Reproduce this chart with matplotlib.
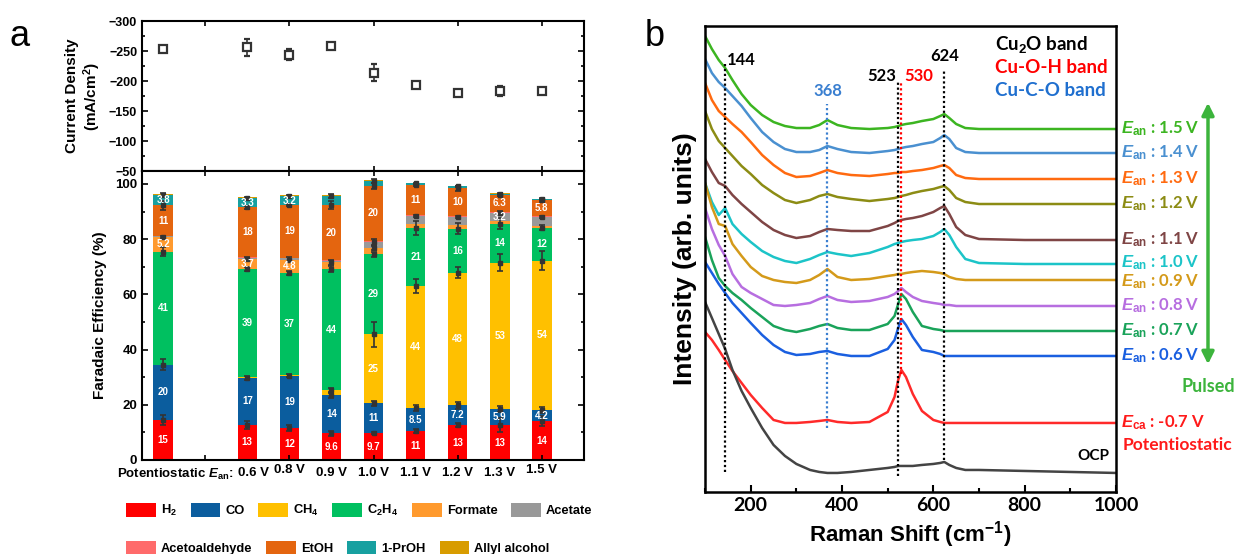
import matplotlib
matplotlib.use("Agg")
from matplotlib import pyplot as plt
from matplotlib.patches import Patch, FancyArrowPatch
from matplotlib.ticker import MultipleLocator, FixedLocator, NullFormatter

plt.rcParams['font.family'] = ['Liberation Sans', 'DejaVu Sans']
plt.rcParams['font.weight'] = 'bold'
plt.rcParams['axes.labelweight'] = 'bold'
plt.rcParams['mathtext.fontset'] = 'custom'
plt.rcParams['mathtext.rm'] = 'Liberation Sans:bold'
plt.rcParams['mathtext.it'] = 'Liberation Sans:italic:bold'
plt.rcParams['mathtext.bf'] = 'Liberation Sans:bold'

# %% data, panel a
conditions = ['0.6 V', '0.8 V', '0.9 V', '1.0 V', '1.1 V', '1.2 V', '1.3 V', '1.5 V']
positions = [0, 2, 3, 4, 5, 6, 7, 8, 9]

current = [-253, -256, -244, -259, -214, -194, -180, -184, -183]
current_err = [5, 14, 9, 4, 14, 5, 4, 8, 5]

products = ['H$_2$', 'CO', 'CH$_4$', 'C$_2$H$_4$', 'Formate', 'Acetate',
            'Acetoaldehyde', 'EtOH', '1-PrOH', 'Allyl alcohol']
colors = ['#ff0000', '#0b5d9e', '#ffc000', '#00c060', '#ff9a2e', '#999999',
          '#ff6b6b', '#e4650f', '#17a0a0', '#d89c00']

fe_h2 = [14.5, 12.7, 11.6, 9.6, 9.7, 10.4, 12.6, 12.6, 14.0]
fe_co = [20, 17, 19, 14, 10.8, 8.5, 7.2, 5.9, 4.2]
fe_ch4 = [0, 0.4, 0.2, 1.6, 25, 44, 48, 53, 54]
fe_c2h4 = [41, 39, 37, 44, 29, 21, 16, 14, 12]
fe_formate = [5.2, 3.7, 4.8, 2.4, 2.2, 1.6, 1.3, 0.9, 0.7]
fe_acetate = [0.3, 0.5, 0.5, 0.6, 2.2, 2.8, 3.0, 3.2, 3.2]
fe_acetald = [0.2, 0.2, 0.2, 0.2, 0.4, 0.3, 0.3, 0.2, 0.2]
fe_etoh = [11, 18, 19, 20, 20, 11, 10, 6.3, 5.8]
fe_proh = [3.8, 3.3, 3.2, 3.2, 1.8, 0.6, 0.7, 0.4, 0.4]
fe_allyl = [0.4, 0.3, 0.4, 0.3, 0.5, 0.3, 0.3, 0.2, 0.2]

err_h2 = [1.7, 1.5, 1.0, 0.8, 0.3, 0.8, 0.8, 2.5, 1.8]
err_co = [2.0, 0.8, 0.5, 1.0, 1.0, 1.0, 1.2, 1.2, 1.0]
err_ch4 = [0, 0, 0, 1.0, 4.5, 2.5, 2.0, 3.0, 3.5]
err_c2h4 = [1.5, 0.8, 0.8, 1.2, 1.0, 2.5, 2.0, 2.0, 0.8]
err_formate = [0.3, 0.8, 0.8, 1.0, 0.8, 0, 0, 0, 0]
err_acetate = [0, 0, 0, 0, 1.0, 0.4, 0.3, 0.5, 0.3]
err_acetald = [0, 0, 0, 0, 0, 0, 0, 0, 0]
err_etoh = [1.6, 0.6, 0.4, 1.5, 1.0, 0.5, 0.8, 0.3, 0.5]
err_proh = [0.6, 0.6, 0.6, 0.6, 0.6, 0.3, 0.3, 0.3, 0.3]
err_allyl = [0, 0, 0, 0, 0, 0, 0, 0, 0]

lab_h2 = ['15', '13', '12', '9.6', '9.7', '11', '13', '13', '14']
lab_co = ['20', '17', '19', '14', '11', '8.5', '7.2', '5.9', '4.2']
lab_ch4 = ['', '', '', '', '25', '44', '48', '53', '54']
lab_c2h4 = ['41', '39', '37', '44', '29', '21', '16', '14', '12']
lab_formate = ['5.2', '3.7', '4.8', '', '', '', '', '', '']
lab_acetate = ['', '', '', '', '', '', '', '3.2', '']
lab_etoh = ['11', '18', '19', '20', '20', '11', '10', '6.3', '5.8']
lab_proh = ['3.8', '3.3', '3.2', '', '', '', '', '', '']
empty = [''] * 9

# %% data, panel b
raman_x = [100, 115, 130, 144, 160, 180, 200, 225, 250, 275, 300, 330, 350, 368,
           390, 420, 460, 500, 515, 523, 530, 540, 555, 575, 600, 615, 624, 635,
           650, 670, 700, 800, 1000]
spec_15 = [456, 443, 432, 424, 412, 398, 387, 377, 370, 366, 364, 364, 367, 372,
           367, 364, 363, 364, 365, 366, 367, 368, 369, 371, 373, 376, 378, 374,
           368, 364, 363, 363, 363]
spec_14 = [433, 419, 410, 404, 396, 386, 374, 360, 350, 343, 340, 340, 342, 346,
           343, 340, 339, 341, 342, 343, 344, 345, 346, 348, 350, 354, 357, 353,
           344, 340, 339, 339, 339]
spec_13 = [409, 392, 381, 375, 368, 360, 350, 337, 327, 319, 315, 316, 319, 322,
           319, 317, 316, 318, 319, 319, 320, 320, 321, 322, 324, 326, 327, 324,
           317, 314, 313, 313, 313]
spec_12 = [381, 363, 351, 344, 336, 326, 318, 307, 299, 292, 289, 292, 296, 298,
           295, 293, 291, 293, 294, 295, 296, 297, 299, 301, 303, 305, 306, 302,
           294, 290, 288, 288, 288]
spec_11 = [333, 320, 309, 306, 297, 288, 280, 270, 262, 257, 254, 256, 260, 263,
           262, 261, 261, 266, 269, 271, 272, 273, 274, 276, 280, 284, 286, 278,
           265, 257, 253, 252, 252]
spec_10 = [309, 290, 277, 284, 268, 258, 250, 241, 235, 231, 229, 233, 237, 240,
           238, 236, 239, 245, 248, 249, 250, 251, 252, 253, 256, 260, 263, 257,
           245, 233, 229, 228, 228]
spec_09 = [309, 285, 268, 266, 248, 236, 225, 216, 212, 210, 209, 212, 217, 223,
           215, 212, 213, 216, 217, 218, 218, 219, 220, 221, 220, 219, 218, 215,
           213, 212, 212, 212, 212]
spec_08 = [284, 263, 247, 236, 218, 205, 199, 193, 187, 186, 187, 189, 193, 196,
           192, 190, 191, 195, 198, 201, 204, 200, 195, 191, 189, 188, 187, 187,
           186, 186, 186, 186, 186]
spec_07 = [255, 232, 214, 206, 199, 192, 184, 175, 166, 162, 160, 163, 166, 168,
           164, 162, 162, 168, 176, 188, 198, 193, 180, 166, 163, 162, 161, 161,
           161, 161, 161, 161, 161]
spec_06 = [230, 219, 208, 199, 189, 179, 169, 157, 147, 140, 137, 138, 140, 141,
           138, 136, 136, 143, 152, 164, 173, 167, 155, 142, 140, 138, 136, 136,
           136, 136, 136, 136, 136]
spec_ca = [160, 152, 142, 132, 121, 109, 97, 84, 72, 69, 69, 70, 71, 72,
           70, 69, 70, 80, 95, 112, 122, 115, 98, 81, 72, 70, 69, 69,
           69, 69, 69, 69, 69]
spec_ocp = [190, 174, 158, 143, 122, 101, 84, 64, 47, 36, 28, 22, 20, 19,
            19, 20, 22, 24, 25, 26, 26, 26, 26, 27, 28, 29, 30, 27,
            24, 22, 22, 21, 19]

spectra = [spec_15, spec_14, spec_13, spec_12, spec_11, spec_10, spec_09,
           spec_08, spec_07, spec_06, spec_ca, spec_ocp]
spec_names = ['1.5 V', '1.4 V', '1.3 V', '1.2 V', '1.1 V', '1.0 V', '0.9 V',
              '0.8 V', '0.7 V', '0.6 V', '-0.7 V', 'OCP']
spec_colors = ['#3cb521', '#4a90d0', '#ff6a10', '#8c8c14', '#7f4545', '#1cc4c8',
               '#d49a1a', '#b76ee0', '#1aa35a', '#1a5fe0', '#ff2a2a', '#444444']

band_pos = [144, 368, 523, 530, 624]
band_colors = ['black', '#3a7fd0', 'black', 'red', 'black']

# %% figure
fig = plt.figure(figsize=(12.49, 5.54), dpi=100)

ax_top = fig.add_axes([0.1137, 0.691, 0.3539, 0.271])
ax_fe = fig.add_axes([0.1137, 0.1697, 0.3539, 0.5217])
ax_b = fig.add_axes([0.5645, 0.112, 0.3290, 0.841])

# current density
ax_top.errorbar(positions, current, yerr=current_err, fmt='s', mfc='white',
                mec='#333333', mew=1.6, ms=5.5, ecolor='#333333', elinewidth=1.2,
                capsize=2.5, capthick=1.2)
ax_top.set_ylim(-50, -300)
ax_top.set_xlim(-0.5, 10)
ax_top.yaxis.set_major_locator(MultipleLocator(50))
ax_top.yaxis.set_minor_locator(MultipleLocator(25))
ax_top.xaxis.set_major_locator(FixedLocator([1, 3, 5, 7, 9]))
ax_top.xaxis.set_major_formatter(NullFormatter())
ax_top.tick_params(axis='both', which='both', direction='in', top=True, right=True,
                   labelsize=9, width=1.2)
ax_top.tick_params(axis='y', which='major', length=4)
ax_top.tick_params(axis='y', which='minor', length=2)
ax_top.set_ylabel('Current Density\n(mA/cm$^2$)', fontsize=11, labelpad=4)

# faradaic efficiency
fe_all = [fe_h2, fe_co, fe_ch4, fe_c2h4, fe_formate, fe_acetate, fe_acetald,
          fe_etoh, fe_proh, fe_allyl]
err_all = [err_h2, err_co, err_ch4, err_c2h4, err_formate, err_acetate,
           err_acetald, err_etoh, err_proh, err_allyl]
lab_all = [lab_h2, lab_co, lab_ch4, lab_c2h4, lab_formate, lab_acetate, empty,
           lab_etoh, lab_proh, empty]

bottom = [0.0] * len(positions)
for vals, errs, labs, col in zip(fe_all, err_all, lab_all, colors):
    ax_fe.bar(positions, vals, width=0.46, bottom=bottom, color=col, linewidth=0)
    tops = [b + v for b, v in zip(bottom, vals)]
    for x, t, e in zip(positions, tops, errs):
        if e > 0:
            ax_fe.errorbar(x, t, yerr=e, fmt='s', ms=2.5, color='#333333',
                           elinewidth=1.2, capsize=2.5, capthick=1.2)
    for x, b, v, s in zip(positions, bottom, vals, labs):
        if s:
            ax_fe.text(x, b + v / 2, s, color='white', fontsize=7, ha='center',
                       va='center', fontweight='bold')
    bottom = tops

ax_fe.set_xlim(-0.5, 10)
ax_fe.set_ylim(0, 104.7)
ax_fe.yaxis.set_major_locator(MultipleLocator(20))
ax_fe.yaxis.set_minor_locator(MultipleLocator(10))
ax_fe.xaxis.set_major_locator(FixedLocator([1, 3, 5, 7, 9]))
ax_fe.xaxis.set_major_formatter(NullFormatter())
ax_fe.tick_params(axis='both', which='both', direction='in', top=True, right=True,
                  labelsize=9.5, width=1.2)
ax_fe.tick_params(axis='y', which='major', length=4)
ax_fe.tick_params(axis='y', which='minor', length=2)
ax_fe.set_ylabel('Faradaic Efficiency (%)', fontsize=11, labelpad=6)
for ax in (ax_top, ax_fe):
    for sp in ax.spines.values():
        sp.set_linewidth(1.5)

label_x = [2.14, 3, 4, 5, 6, 7, 8, 9]
label_dy = [0, 0.01, 0, 0, 0, 0, 0, 0.01]
trans = ax_fe.get_xaxis_transform()
ax_fe.text(1.67, -0.025, 'Potentiostatic $E_{\\mathrm{an}}$:', transform=trans,
           ha='right', va='top', fontsize=9.5)
for x, dy, s in zip(label_x, label_dy, conditions):
    ax_fe.text(x, -0.025 + dy, s, transform=trans, ha='center', va='top',
               fontsize=9.5)

handles = [Patch(facecolor=c, edgecolor='none', label=p) for p, c in zip(products, colors)]
leg_kw = dict(frameon=False, fontsize=9.3, handlelength=2.3, handleheight=1.3,
              handletextpad=0.4, columnspacing=1.05, borderaxespad=0, borderpad=0)
fig.legend(handles=handles[:6], ncol=6, loc='center left',
           bbox_to_anchor=(0.101, 0.079), **leg_kw)
fig.legend(handles=handles[6:], ncol=4, loc='center left',
           bbox_to_anchor=(0.101, 0.011), **leg_kw)

fig.text(0.008, 0.935, 'a', fontsize=26, fontweight='normal', va='center')
fig.text(0.516, 0.935, 'b', fontsize=26, fontweight='normal', va='center')

# %% raman
for ys, col in zip(spectra, spec_colors):
    ax_b.plot(raman_x, ys, color=col, lw=1.8)

band_top = [430, 388, 410, 410, 422]
band_bot = [20, 64, 16, 118, 32]
for x, c, t, b in zip(band_pos, band_colors, band_top, band_bot):
    ax_b.plot([x, x], [b, t], color=c, ls=(0, (1, 1.2)), lw=1.6)

ann = dict(fontfamily=['Lato', 'DejaVu Sans'], fontweight='bold')
ax_b.text(148, 432, '144', fontsize=12, ha='left', va='center', **ann)
ax_b.text(368, 401, '368', fontsize=12, ha='center', va='center', color='#3a7fd0', **ann)
ax_b.text(519, 416, '523', fontsize=12, ha='right', va='center', **ann)
ax_b.text(536, 416, '530', fontsize=12, ha='left', va='center', color='red', **ann)
ax_b.text(624, 436, '624', fontsize=12, ha='center', va='center', **ann)
ax_b.text(735, 448, 'Cu$_2$O band', fontsize=13.5, ha='left', va='center', **ann)
ax_b.text(735, 425, 'Cu-O-H band', fontsize=13.5, ha='left', va='center', color='red', **ann)
ax_b.text(735, 402, 'Cu-C-O band', fontsize=13.5, ha='left', va='center', color='#1f6fcf', **ann)
ax_b.text(985, 36, 'OCP', fontsize=11, ha='right', va='center', **ann)

# small nudges so the crowded right-hand labels do not touch
label_nudge = [0, 0, 0, 0, 0, 1.5, -1.5, 0, 0, 0]
for ys, name, col, dy in zip(spectra[:10], spec_names[:10], spec_colors[:10], label_nudge):
    ax_b.text(1010, ys[-1] + dy, '$E_{\\mathrm{an}}$ : ' + name, fontsize=12, color=col,
              ha='left', va='center', clip_on=False, **ann)
ax_b.text(1010, spec_ca[-1], '$E_{\\mathrm{ca}}$ : ' + spec_names[10], fontsize=12,
          color='#ff1a1a', ha='left', va='center', clip_on=False, **ann)
fig.text(0.899, 1 - 445 / 554, 'Potentiostatic', fontsize=12.5, color='#ff1a1a',
         ha='left', va='center', **ann)
fig.text(1208 / 1249, 1 - 386 / 554, 'Pulsed', fontsize=13, color='#3cb43c',
         ha='center', va='center', **ann)
fig.add_artist(FancyArrowPatch(
    (1208 / 1249, 1 - 367 / 554), (1208 / 1249, 1 - 100 / 554),
    transform=fig.transFigure, arrowstyle='<|-|>', mutation_scale=18,
    color='#3cb43c', lw=2.5))

ax_b.set_xlim(100, 1000)
ax_b.set_ylim(0, 466)
ax_b.set_yticks([])
ax_b.xaxis.set_major_locator(MultipleLocator(200))
ax_b.xaxis.set_minor_locator(MultipleLocator(100))
ax_b.tick_params(axis='x', which='both', direction='in', width=1.5, labelsize=14)
ax_b.tick_params(axis='x', which='major', length=5)
ax_b.tick_params(axis='x', which='minor', length=3)
for lab in ax_b.get_xticklabels():
    lab.set_fontfamily(['Lato', 'DejaVu Sans'])
    lab.set_fontweight('bold')
for sp in ax_b.spines.values():
    sp.set_linewidth(1.8)
ax_b.set_xlabel('Raman Shift (cm$^{-1}$)', fontsize=16, labelpad=4)
ax_b.set_ylabel('Intensity (arb. units)', fontsize=19, labelpad=6)

fig.savefig('out.png', dpi=100)
